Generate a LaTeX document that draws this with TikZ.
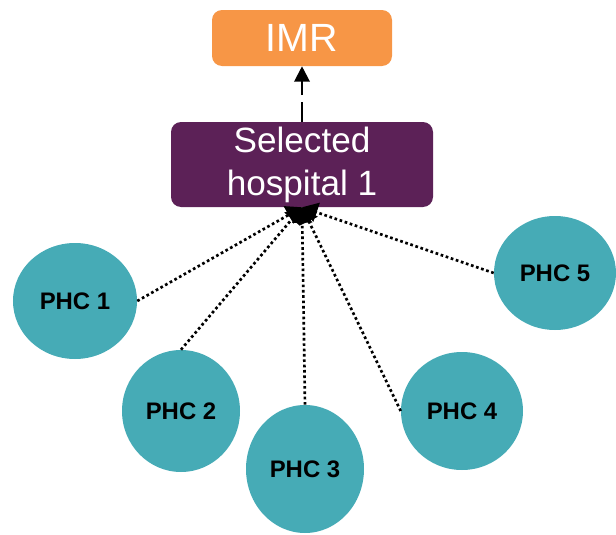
\documentclass[tikz,border=0pt]{standalone}
\usepackage{fontspec}
\setmainfont{Liberation Sans}
\usetikzlibrary{shapes,arrows.meta}

\definecolor{imrorange}{HTML}{F79646}
\definecolor{hosppurple}{HTML}{5C2157}
\definecolor{phcteal}{HTML}{46ABB6}

\tikzset{
  box/.style={rounded corners=0.25cm, text=white, inner sep=0pt, align=center},
  phc/.style={ellipse, fill=phcteal, inner sep=0pt, font=\fontsize{17}{20}\selectfont\bfseries},
  link/.style={line width=1.9pt, dash pattern=on 1.9pt off 1.9pt, -{Triangle[length=11pt, width=14pt]}}
}

\begin{document}
\begin{tikzpicture}
\useasboundingbox (0,0) rectangle (15.4,13.35);
% boxes
\node[box, fill=imrorange, minimum width=4.5cm, minimum height=1.4cm, font=\fontsize{28}{30}\selectfont] (imr) at (7.55,12.4) {IMR};
\node[box, fill=hosppurple, minimum width=6.55cm, minimum height=2.125cm, font=\fontsize{25}{30.5}\selectfont] (hosp) at (7.55,9.2375) {Selected\\hospital 1};
\draw [line width=1.5pt, dash pattern=on 14pt off 5pt, -{Triangle[length=11pt, width=11pt]}] (hosp.north) -- (imr.south);
% phcs
\foreach \i/\x/\y/\w/\h in {1/1.875/5.825/3.1/2.9, 2/4.525/3.075/2.95/3.05, 3/7.625/1.625/2.95/3.2, 4/11.55/3.075/3.05/2.95, 5/13.875/6.525/3.05/2.85} {
    \node[phc, minimum width=\w cm, minimum height=\h cm] (p\i) at (\x,\y) {PHC \i};
}
% links
\foreach \n/\a in {p1/east, p2/north, p3/north, p4/west, p5/west} {
    \draw [link] (\n.\a) -- (hosp.south);
}
\end{tikzpicture}
\end{document}
